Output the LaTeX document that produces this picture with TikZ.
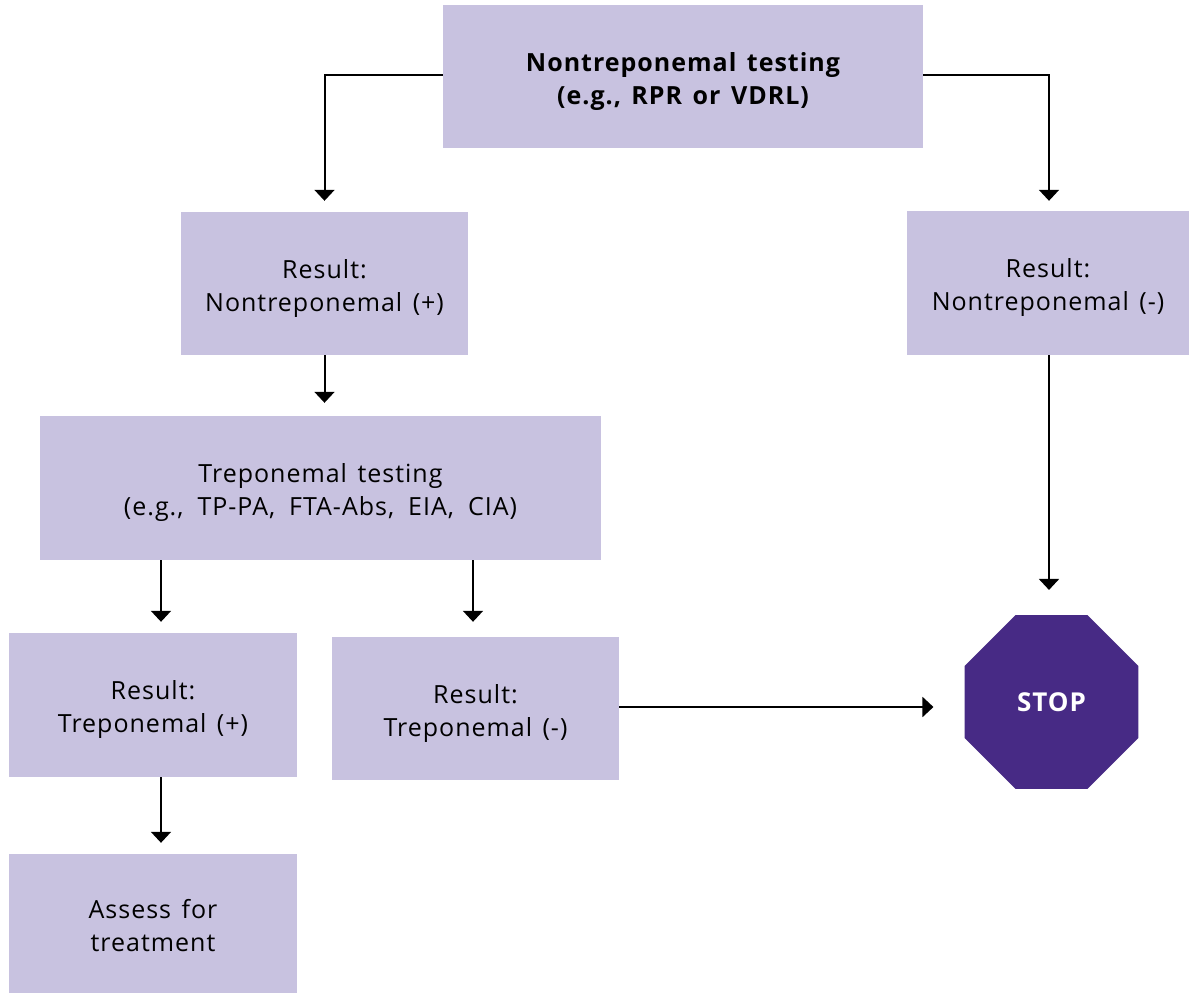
\documentclass[tikz,border=0pt]{standalone}
\usepackage{fontspec}
\setmainfont{Open Sans}[LetterSpace=4,WordSpace=1.4]
\usetikzlibrary{arrows.meta,shapes.geometric,calc}
\definecolor{boxfill}{HTML}{C8C2E0}
\definecolor{stopfill}{HTML}{472A85}
\newcommand{\txtlines}[1]{\raisebox{0pt}[\dimexpr\height+9pt\relax][\depth]{\begin{tabular}{@{}c@{}}#1\end{tabular}}}
\begin{document}
\begin{tikzpicture}[x=1pt,y=-1pt,
  box/.style={rectangle,fill=boxfill,inner sep=0pt,align=center,font=\fontsize{25}{33}\selectfont},
  arr/.style={line width=2pt,-{Triangle[width=20pt,length=11pt]}},
  stopsign/.style={regular polygon,regular polygon sides=8,fill=stopfill,inner sep=0pt,minimum size=188pt,text=white,font=\fontsize{26}{30}\selectfont\bfseries}]
\useasboundingbox (0,0) rectangle (1189,993);
\node[box,minimum width=480pt,minimum height=143pt,font=\fontsize{25}{33}\selectfont\bfseries] (b1) at (683,76.5) {\txtlines{Nontreponemal testing\\(e.g., RPR or VDRL)}};
\node[box,minimum width=287pt,minimum height=143pt] (b2) at (324.5,283.5) {\txtlines{Result:\\Nontreponemal (+)}};
\node[box,minimum width=282pt,minimum height=144pt] (b3) at (1048,283) {\txtlines{Result:\\Nontreponemal (-)}};
\node[box,minimum width=561pt,minimum height=144pt] (b4) at (320.5,488) {\txtlines{Treponemal testing\\{\spaceskip=14pt plus 2pt(e.g., TP-PA, FTA-Abs, EIA, CIA)}}};
\node[box,minimum width=288pt,minimum height=144pt] (b5) at (153,705) {\txtlines{Result:\\Treponemal (+)}};
\node[box,minimum width=287pt,minimum height=143pt] (b6) at (475.5,708.5) {\txtlines{Result:\\Treponemal (-)}};
\node[box,minimum width=288pt,minimum height=139pt] (b7) at (153,923.5) {\txtlines{Assess for\\treatment}};
\node[stopsign] (stop) at (1051.5,702) {STOP};
\coordinate (xa) at (161,0);
\coordinate (xb) at (473,0);
\coordinate (xc) at (1049,0);
\coordinate (ya) at (0,75);
\coordinate (yb) at (0,707);
\draw[arr,shorten >=11pt] (b1.west |- ya) -| (b2.north);
\draw[arr,shorten >=10pt] (b1.east |- ya) -| (xc |- b3.north);
\draw[arr,shorten >=13pt] (b2.south) -- (b2.south |- b4.north);
\draw[arr,shorten >=11pt] (xa |- b4.south) -- (xa |- b5.north);
\draw[arr,shorten >=15pt] (xb |- b4.south) -- (xb |- b6.north);
\draw[arr,shorten >=11pt] (xa |- b5.south) -- (xa |- b7.north);
\draw[arr,shorten >=25pt] (xc |- b3.south) -- (xc |- stop.north);
\draw[arr,shorten >=31pt] (b6.east |- yb) -- (stop.west |- yb);
\end{tikzpicture}
\end{document}
